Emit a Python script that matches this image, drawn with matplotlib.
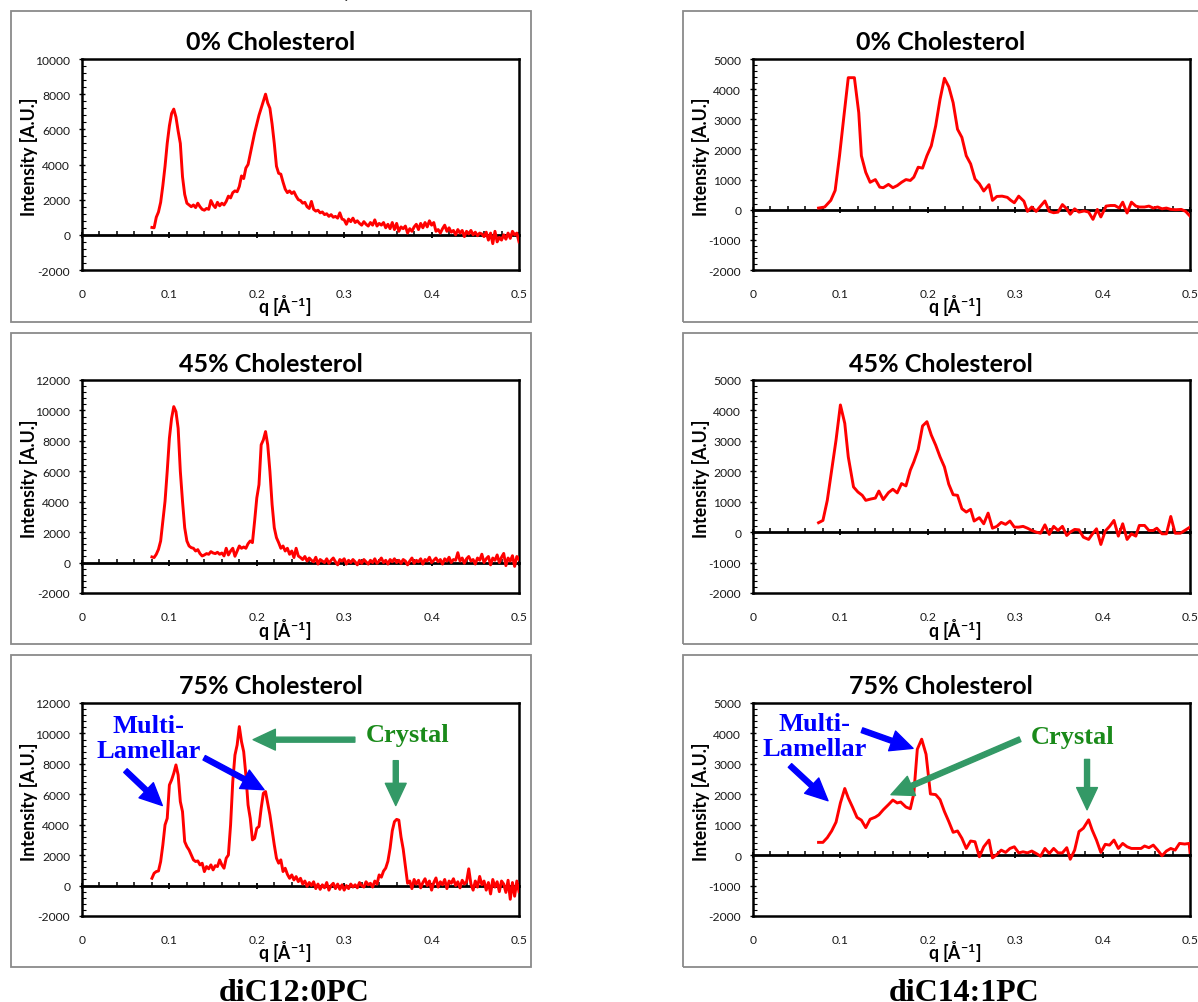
import numpy as np
import matplotlib.pyplot as plt
from matplotlib.patches import Rectangle
from matplotlib.ticker import MultipleLocator

plt.rcParams['font.family'] = ['Lato', 'DejaVu Sans']
plt.rcParams['mathtext.fontset'] = 'custom'
plt.rcParams['mathtext.rm'] = 'Lato'
plt.rcParams['mathtext.bf'] = 'Lato:bold'
plt.rcParams['axes.unicode_minus'] = False

# ---- diC12:0PC (left column), q grid of the detector bins ----
q_left = np.linspace(0.08, 0.5, 169)

I_c12_0 = [420, 400, 1000, 1300, 1850, 2800, 3900, 5200,
           6200, 6900, 7150, 6700, 5900, 5200, 3300, 2300,
           1800, 1700, 1600, 1700, 1550, 1800, 1600, 1450,
           1400, 1500, 1450, 1950, 1700, 1550, 1850, 1650,
           1800, 1700, 1900, 2200, 2100, 2400, 2500, 2450,
           2750, 3350, 3200, 3800, 4000, 4600, 5200, 5800,
           6300, 6800, 7200, 7600, 8000, 7500, 7200, 6300,
           5200, 3900, 3500, 3450, 3000, 2600, 2400, 2500,
           2350, 2450, 2200, 2000, 1950, 1800, 1850, 1600,
           1500, 1900, 1450, 1350, 1400, 1250, 1300, 1150,
           1200, 1050, 1150, 1000, 1050, 950, 1250, 900,
           850, 600, 900, 750, 950, 700, 800, 650,
           550, 750, 600, 500, 700, 550, 850, 500,
           650, 550, 700, 400, 600, 350, 700, 300,
           650, 200, 450, 350, 500, 100, 350, 200,
           450, 600, 300, 650, 400, 700, 450, 800,
           550, 700, 200, 300, 100, 350, 550, 200,
           400, 150, 250, 0, 300, 100, 250, -100,
           200, 50, 250, 0, 150, -50, 100, 50,
           -100, 150, -300, 100, -500, 200, -400, -150,
           -300, 0, -250, 100, -200, 200, 0, 100,
           -400]

I_c12_45 = [370, 330, 545, 870, 1420, 2725, 4030, 6000,
            8175, 9480, 10250, 9920, 8830, 6000, 4030, 2290,
            1420, 1090, 980, 940, 760, 850, 590, 435,
            500, 590, 545, 720, 630, 590, 675, 545,
            630, 435, 940, 500, 760, 940, 415, 760,
            1090, 940, 1025, 940, 1240, 1420, 1310, 2725,
            4250, 5120, 7740, 8065, 8610, 7740, 6000, 3815,
            2290, 1635, 1310, 940, 1090, 760, 940, 545,
            760, 330, 940, 435, 330,
            200, 400, 100, 300, 150, 50, 350, -100,
            200, 100, 0, 250, -50, 150, 300, 50,
            -150, 200, 100, 250, -100, 150, 0, 200,
            50, -150, 150, -50, 200, 50, -100, 150,
            0, 250, -50, 100, 300, 0, 150, -100,
            200, 50, 250, 0, 150, -50, 200, 100,
            -150, 100, 300, -50, 150, 50, 250, -100,
            200, 100, 350, 0, 150, 300, 50, 200,
            -100, 250, 100, 350, 0, 200, 150, 650,
            100, 300, -50, 250, 400, 100, 200, -100,
            300, 150, 550, 0, 250, 400, -150, 300,
            150, 500, 0, 350, 600, -200, 300, 100,
            450, -250, 400, 200]

I_c12_75 = [480, 810, 920, 960, 1580, 2670, 3990, 4420,
            6610, 6940, 7380, 7930, 7270, 5520, 4860, 2890,
            2560, 2340, 2010, 1690, 1580, 1620, 1360, 1470,
            920, 1250, 1100, 1360, 1030, 1310, 1250, 1690,
            1360, 1140, 1800, 2010, 3990, 6830, 8580, 9240,
            10450, 9460, 8800, 7270, 5300, 4420, 3000, 3110,
            3770, 3880, 5080, 6070, 6180, 5410, 4640, 3660,
            2670, 1800, 1470, 1690, 920, 1140, 740, 480,
            700, 370, 590, 260, 480,
            100, 300, -50, 200, 0, 250, -200, 100,
            -250, 50, -150, 200, -300, 0, 150, -200,
            100, -250, 50, -300, 0, -200, 100, -100,
            50, -150, 200, 0, -100, 250, 50, 150,
            -100, 300, 100, 700, 550, 950, 1150, 1600,
            2450, 3600, 4200, 4350, 4300, 3200, 2400, 1300,
            150, 300, -200, 400, 100, 350, -150, 200,
            450, 0, 300, -300, 200, 500, -100, 250,
            50, 400, -200, 300, 150, 450, 0, 250,
            -150, 350, 100, 250, 1100, 100, -300, 300,
            -100, 600, 50, 300, -300, 200, -550, 400,
            -100, 250, -400, 300, 100, -450, 350, -900,
            200, -700, 300, -400]

# ---- diC14:1PC (right column) ----
q_c14_0 = [0.075, 0.082, 0.089, 0.094, 0.099, 0.104, 0.109, 0.116, 0.121, 0.124,
           0.129, 0.134, 0.140, 0.145, 0.149, 0.155, 0.160, 0.165, 0.170, 0.175,
           0.180, 0.184, 0.189, 0.194, 0.199, 0.204, 0.209, 0.214, 0.219, 0.224,
           0.229, 0.234, 0.239, 0.244, 0.249, 0.254, 0.259, 0.264, 0.270, 0.274,
           0.279, 0.285, 0.291, 0.295, 0.299, 0.304, 0.310, 0.314, 0.319, 0.324,
           0.329, 0.334, 0.339, 0.344, 0.349, 0.354, 0.359, 0.363, 0.368, 0.373,
           0.379, 0.384, 0.389, 0.394, 0.398, 0.404, 0.409, 0.414, 0.419, 0.423,
           0.428, 0.433, 0.438, 0.442, 0.448, 0.453, 0.458, 0.463, 0.468, 0.473,
           0.478, 0.484, 0.490, 0.495, 0.500]
I_c14_0 = [55, 90, 310, 640, 1790, 3100, 4380, 4380, 3220, 1790,
           1240, 910, 1000, 750, 730, 840, 730, 800, 910, 1000,
           970, 1080, 1410, 1380, 1790, 2120, 2780, 3660, 4360, 4080,
           3550, 2670, 2400, 1790, 1520, 1020, 860, 620, 830, 310,
           440, 450, 410, 310, 230, 450, 280, -55, 90, -55,
           120, 290, -55, -100, -80, 170, 30, -150, 30, -80,
           -40, -80, -320, 10, -240, 120, 140, 140, 55, 250,
           -110, 250, 120, 90, 90, 120, 55, 90, 30, 55,
           10, 0, 10, -55, -210]

q_c14_45 = [0.075, 0.080, 0.085, 0.090, 0.095, 0.100, 0.105, 0.109, 0.115, 0.120,
            0.125, 0.129, 0.135, 0.140, 0.144, 0.149, 0.155, 0.160, 0.165, 0.170,
            0.175, 0.180, 0.184, 0.189, 0.194, 0.199, 0.204, 0.209, 0.214, 0.219,
            0.224, 0.229, 0.234, 0.239, 0.244, 0.249, 0.253, 0.259, 0.264, 0.269,
            0.274, 0.279, 0.284, 0.289, 0.294, 0.299, 0.304, 0.309, 0.314, 0.319,
            0.324, 0.329, 0.334, 0.339, 0.344, 0.349, 0.354, 0.359, 0.363, 0.368,
            0.373, 0.378, 0.384, 0.388, 0.393, 0.398, 0.403, 0.408, 0.413, 0.418,
            0.423, 0.428, 0.433, 0.438, 0.442, 0.448, 0.453, 0.458, 0.462, 0.468,
            0.473, 0.478, 0.483, 0.489, 0.494, 0.500]
I_c14_45 = [310, 385, 1045, 2035, 3025, 4180, 3575, 2475, 1485, 1320,
            1210, 1045, 1090, 1120, 1350, 1070, 1300, 1410, 1290, 1595,
            1520, 2035, 2310, 2720, 3490, 3630, 3190, 2860, 2475, 2145,
            1575, 1230, 1210, 770, 660, 750, 365, 475, 275, 625,
            130, 190, 320, 255, 365, 165, 165, 190, 130, 55,
            0, -35, 240, -75, 190, 55, 190, -110, 0, 90,
            75, -165, -240, -75, 110, -405, 35, 190, 385, -130,
            275, -240, -55, -130, 220, 220, 55, 55, 130, -55,
            -55, 515, -35, -35, 55, 165]

q_c14_75 = [0.075, 0.080, 0.085, 0.090, 0.095, 0.100, 0.105, 0.109, 0.114, 0.119,
            0.124, 0.129, 0.134, 0.140, 0.144, 0.149, 0.155, 0.160, 0.165, 0.169,
            0.175, 0.180, 0.184, 0.188, 0.193, 0.198, 0.203, 0.209, 0.214, 0.219,
            0.224, 0.229, 0.234, 0.239, 0.244, 0.249, 0.254, 0.259, 0.264, 0.270,
            0.274, 0.279, 0.284, 0.289, 0.294, 0.299, 0.304, 0.309, 0.314, 0.319,
            0.324, 0.329, 0.334, 0.339, 0.344, 0.349, 0.354, 0.359, 0.363, 0.368,
            0.373, 0.378, 0.384, 0.388, 0.393, 0.398, 0.403, 0.408, 0.413, 0.418,
            0.423, 0.428, 0.433, 0.439, 0.444, 0.448, 0.453, 0.458, 0.463, 0.468,
            0.473, 0.478, 0.483, 0.488, 0.494, 0.499, 0.500]
I_c14_75 = [420, 420, 575, 795, 1085, 1715, 2190, 1880, 1570, 1240,
            1150, 905, 1180, 1250, 1325, 1490, 1660, 1810, 1715, 1745,
            1580, 1525, 2020, 3480, 3810, 3315, 2010, 1990, 1825, 1435,
            1105, 750, 795, 555, 220, 465, 440, -55, 275, 495,
            -90, 20, 165, 90, 220, 275, 75, 110, 75, 135,
            55, -35, 220, 55, 220, 75, 75, 245, -135, 165,
            775, 885, 1160, 830, 495, 90, 355, 330, 495, 220,
            385, 275, 220, 220, 220, 300, 245, 330, 165, -20,
            135, 220, 165, 385, 365, 385, 90]

titles = ['0% Cholesterol', '45% Cholesterol', '75% Cholesterol']
lipids = ['diC12:0PC', 'diC14:1PC']
x_ticks = [0, 0.1, 0.2, 0.3, 0.4, 0.5]
x_tick_labels = ['0', '0.1', '0.2', '0.3', '0.4', '0.5']

# (column, row, q, intensity, ymin, ymax, ystep)
panels = [
    (0, 0, q_left, I_c12_0, -2000, 10000, 2000),
    (0, 1, q_left, I_c12_45, -2000, 12000, 2000),
    (0, 2, q_left, I_c12_75, -2000, 12000, 2000),
    (1, 0, q_c14_0, I_c14_0, -2000, 5000, 1000),
    (1, 1, q_c14_45, I_c14_45, -2000, 5000, 1000),
    (1, 2, q_c14_75, I_c14_75, -2000, 5000, 1000),
]

# ---- layout in pixels ----
W, H = 1198, 1003
fig = plt.figure(figsize=(W / 100, H / 100), dpi=100)


def fx(px):
    return px / W


def fy(py):
    return 1 - py / H


col_x = [(82, 519), (753, 1190)]
row_y = [(60, 271), (381, 594), (704, 917)]
frame_x = [(11, 531), (683, 1215)]
frame_y = [(12, 323), (334, 645), (656, 968)]
title_x = [271, 941]
xlabel_x = [285, 955]
ylabel_x = [29, 701]

axes = {}
for c, r, q, inten, lo, hi, step in panels:
    # grey chart-area frame
    fx0, fx1 = frame_x[c]
    fy0, fy1 = frame_y[r]
    fig.add_artist(Rectangle((fx(fx0), fy(fy1)), (fx1 - fx0) / W, (fy1 - fy0) / H,
                             transform=fig.transFigure, fill=False,
                             ec='#8a8a8a', lw=1.3))

    x0, x1 = col_x[c]
    y0, y1 = row_y[r]
    ax = fig.add_axes([fx(x0), fy(y1), (x1 - x0) / W, (y1 - y0) / H])
    ax.plot(q, inten, color='#ff0000', lw=2.1, zorder=3)
    ax.set_xlim(0, 0.5)
    ax.set_ylim(lo, hi)

    ax.set_xticks(x_ticks)
    ax.set_xticklabels(x_tick_labels)
    ax.tick_params(axis='x', length=0, pad=13, labelsize=8.7, colors='#1a1a1a')
    ax.set_yticks(np.arange(lo, hi + 1, step))
    ax.yaxis.set_minor_locator(MultipleLocator(step / 5))
    ax.tick_params(axis='y', which='major', direction='inout', length=5,
                   width=1, pad=6, labelsize=8.7, labelcolor='#1a1a1a')
    ax.tick_params(axis='y', which='minor', direction='in', length=3, width=0.8)
    for s in ax.spines.values():
        s.set_linewidth(1.8)

    # horizontal axis crossing at zero
    zero = ax.secondary_xaxis(-lo / (hi - lo))
    zero.spines['bottom'].set_linewidth(2.0)
    zero.set_xticks(x_ticks)
    zero.xaxis.set_minor_locator(MultipleLocator(0.02))
    zero.tick_params(which='major', direction='inout', length=5, width=1.3,
                     labelbottom=False)
    zero.tick_params(which='minor', direction='in', length=3, width=1.1)

    yc = (y0 + y1) / 2 - 9
    fig.text(fx(title_x[c]), fy(y0 - 17), titles[r], ha='center', va='center',
             fontsize=18, fontweight='bold')
    fig.text(fx(ylabel_x[c]), fy(yc), 'Intensity [A.U.]', rotation=90,
             ha='center', va='center', fontsize=12.7, fontweight='bold')
    fig.text(fx(xlabel_x[c]), fy(y1 + 35), 'q [Å$^{\\mathbf{-1}}$]',
             ha='center', va='center', fontsize=12.7, fontweight='bold')
    axes[(c, r)] = ax

# ---- annotations on the 75% panels ----
blue = '#0000ff'
green_txt = '#1a8a1a'
green_arr = '#339966'
serif = dict(family='Liberation Serif', fontweight='bold', fontsize=19)


def arrow(ax, tail, head, color):
    ax.annotate('', xy=head, xytext=tail,
                arrowprops=dict(facecolor=color, edgecolor=color, width=3.6,
                                headwidth=15, headlength=16, shrink=0),
                zorder=5)


ax = axes[(0, 2)]
ax.text(0.0759, 9717, 'Multi-\nLamellar', color=blue, ha='center', va='center',
        linespacing=1.1, **serif)
ax.text(0.3727, 9915, 'Crystal', color=green_txt, ha='center', va='center', **serif)
arrow(ax, (0.0497, 7560), (0.0919, 5260), blue)
arrow(ax, (0.1398, 8400), (0.2083, 6300), blue)
arrow(ax, (0.3122, 9590), (0.1958, 9590), green_arr)
arrow(ax, (0.359, 8210), (0.359, 5260), green_arr)

ax = axes[(1, 2)]
ax.text(0.0709, 3907, 'Multi-\nLamellar', color=blue, ha='center', va='center',
        linespacing=1.1, **serif)
ax.text(0.3661, 3907, 'Crystal', color=green_txt, ha='center', va='center', **serif)
arrow(ax, (0.1247, 4106), (0.1831, 3510), blue)
arrow(ax, (0.0423, 2947), (0.0858, 1788), blue)
arrow(ax, (0.3055, 3808), (0.1579, 1987), green_arr)
arrow(ax, (0.3822, 3146), (0.3822, 1490), green_arr)

# ---- lipid names under each column (cut by the bottom edge) ----
fig.text(fx(294), fy(1001), lipids[0], ha='center', va='baseline',
         family='Liberation Serif', fontweight='bold', fontsize=23)
fig.text(fx(964), fy(1001), lipids[1], ha='center', va='baseline',
         family='Liberation Serif', fontweight='bold', fontsize=23)

# descender of a caption line above the crop
fig.text(fx(347), fy(-2), 'y', ha='center', va='baseline', fontsize=13,
         color='#333333')

fig.savefig('out.png', dpi=100)
